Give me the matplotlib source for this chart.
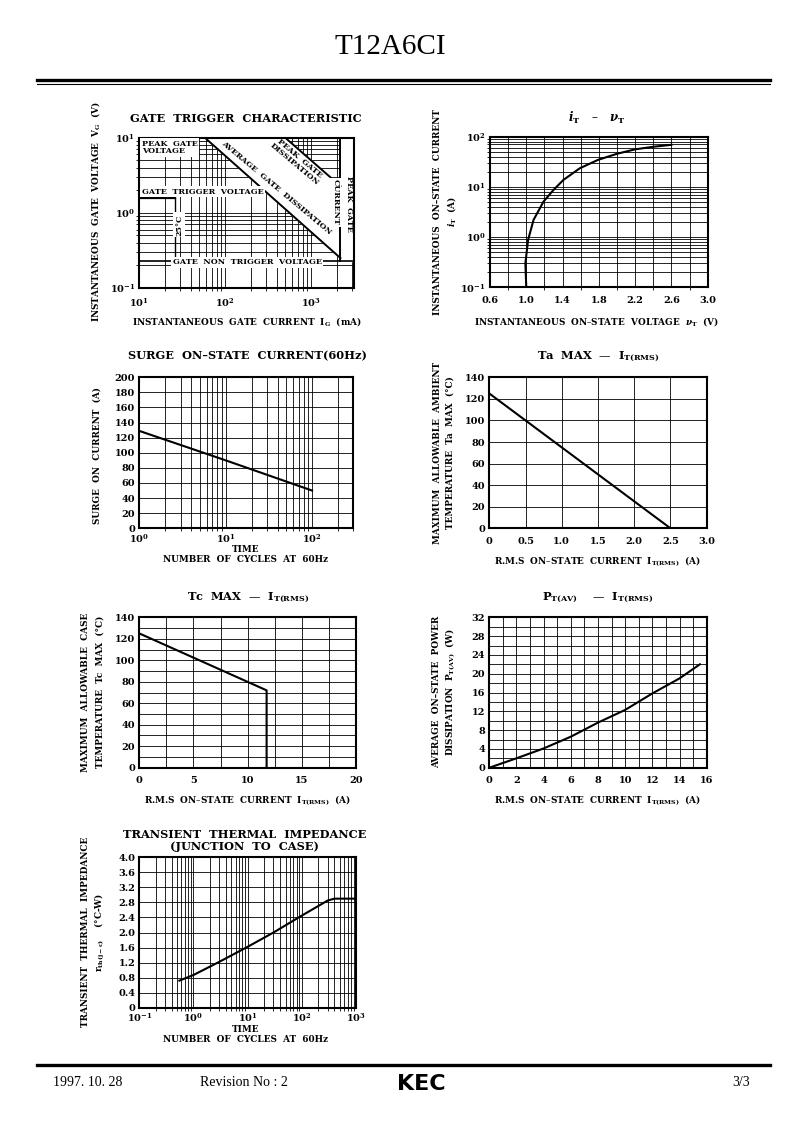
import numpy as np
import matplotlib
matplotlib.use('Agg')
from matplotlib import pyplot as plt

plt.rcParams['font.family'] = 'DejaVu Serif'
plt.rcParams['font.weight'] = 'bold'
plt.rcParams['mathtext.fontset'] = 'dejavuserif'
plt.rcParams['axes.linewidth'] = 1.5

W, H = 793, 1123

# ---- data ----
# gate trigger characteristic (mA, V)
trig_I = [10, 26]
trig_V = [1.6, 1.6]
nontrig_I = [10, 3162]
nontrig_V = [0.23, 0.23]
peak_cur_I = [2200, 2200]
peak_cur_V = [0.23, 10]
avg_diss_I = [58, 2200]
avg_diss_V = [10, 0.25]
peak_diss_I = [500, 2200]
peak_diss_V = [10, 2.27]

# iT - vT
vt = [1.0, 0.99, 1.02, 1.08, 1.19, 1.30, 1.41, 1.59, 1.79, 2.0, 2.2, 2.4, 2.6]
it = [0.1, 0.3, 0.88, 2.2, 5.1, 8.7, 13.8, 23.5, 34.5, 45.7, 56, 63, 69]

# surge on-state current
surge_cycles = [1, 10, 100]
surge_amps = [129, 90, 50]

# Ta max - IT(RMS)
ta_I = [0, 2.5]
ta_T = [125, 0]

# Tc max - IT(RMS)
tc_I = [0, 11.75, 11.75]
tc_T = [125, 72, 0]

# PT(AV) - IT(RMS)
pt_I = [0, 2, 4, 6, 8, 10, 12, 14, 15.5]
pt_P = [0, 2.0, 4.1, 6.6, 9.6, 12.3, 15.8, 19.0, 22.0]

# transient thermal impedance
tr_cycles = [0.55, 1, 3, 10, 30, 100, 300, 400, 1000]
tr_R = [0.72, 0.87, 1.22, 1.62, 2.0, 2.45, 2.85, 2.9, 2.9]

fig = plt.figure(figsize=(W / 100, H / 100), dpi=100)


def add_ax(l, t, r, b):
    ax = fig.add_axes([l / W, 1 - b / H, (r - l) / W, (b - t) / H])
    ax.tick_params(length=0, labelsize=7, pad=3)
    ax.set_axisbelow('line')
    return ax


def ftext(x, y, s, **kw):
    kw.setdefault('ha', 'center')
    kw.setdefault('va', 'center')
    kw.setdefault('fontsize', 6.4)
    fig.text(x / W, 1 - y / H, s, **kw)


def pow_labels(exps):
    return [r'$\mathbf{10^{%d}}$' % e for e in exps]


GRID = dict(color='black', lw=0.6)
TS = 8.2  # chart title size

# ---------- page header / footer ----------
ftext(390, 47, 'T12A6CI', fontsize=21, family='Liberation Serif', weight='normal')
fig.add_artist(plt.Line2D([37 / W, 770 / W], [1 - 80 / H] * 2, color='black', lw=2.4))
fig.add_artist(plt.Line2D([37 / W, 770 / W], [1 - 84 / H] * 2, color='black', lw=0.8))
fig.add_artist(plt.Line2D([37 / W, 770 / W], [1 - 1065 / H] * 2, color='black', lw=2.4))
ftext(88, 1083, '1997. 10. 28', fontsize=10, family='Liberation Serif', weight='normal')
ftext(244, 1083, 'Revision No : 2', fontsize=10, family='Liberation Serif', weight='normal')
ftext(421, 1084, 'KEC', fontsize=16, family='DejaVu Sans', weight='heavy')
ftext(741, 1083, '3/3', fontsize=10, family='Liberation Serif', weight='normal')

# ---------- 1. gate trigger characteristic ----------
ax = add_ax(139.3, 137.7, 354, 288)
ax.set_xscale('log')
ax.set_yscale('log')
ax.set_xlim(10, 3162)
ax.set_ylim(0.1, 10)
ax.set_xticks([10, 100, 1000], pow_labels([1, 2, 3]))
ax.set_yticks([0.1, 1, 10], pow_labels([-1, 0, 1]))
ax.tick_params(axis='x', pad=6)
ax.grid(which='both', **GRID)
band_x = [avg_diss_I[0], peak_diss_I[0], peak_diss_I[1], avg_diss_I[1]]
band_y = [avg_diss_V[0], peak_diss_V[0], peak_diss_V[1], avg_diss_V[1]]
ax.fill(band_x, band_y, color='white', zorder=2)
ax.fill([2200, 3162, 3162, 2200], [0.23, 0.23, 10, 10], color='white', zorder=2)
ax.plot(trig_I, trig_V, color='black', lw=1.6, zorder=3)
ax.plot([trig_I[1], trig_I[1]], [trig_V[1], nontrig_V[0]], color='black', lw=1.0, zorder=3)
ax.plot(nontrig_I, nontrig_V, color='black', lw=1.2, zorder=3)
ax.plot(peak_cur_I, peak_cur_V, color='black', lw=1.4, zorder=3)
ax.plot(avg_diss_I, avg_diss_V, color='black', lw=1.4, zorder=3)
ax.plot(peak_diss_I, peak_diss_V, color='black', lw=1.4, zorder=3)
wb = dict(fc='white', ec='none', pad=1.2)
ax.text(0.012, 0.985, 'PEAK  GATE\nVOLTAGE', transform=ax.transAxes, fontsize=5.8,
        ha='left', va='top', linespacing=0.9, bbox=wb, zorder=4)
ax.text(0.012, 0.615, 'GATE  TRIGGER  VOLTAGE', transform=ax.transAxes, fontsize=5.8,
        ha='left', va='bottom', bbox=wb, zorder=4)
ax.text(0.185, 0.42, '25°C', transform=ax.transAxes, fontsize=5.8, rotation=90,
        ha='center', va='center', bbox=wb, zorder=4)
ax.text(0.155, 0.17, 'GATE  NON  TRIGGER  VOLTAGE', transform=ax.transAxes, fontsize=5.8,
        ha='left', va='center', bbox=wb, zorder=4)
ax.text(0.64, 0.665, 'AVERAGE  GATE  DISSIPATION', transform=ax.transAxes, fontsize=5.8,
        rotation=-40, rotation_mode='anchor', ha='center', va='center', zorder=4)
ax.text(0.735, 0.84, 'PEAK  GATE\nDISSIPATION', transform=ax.transAxes, fontsize=5.8,
        rotation=-40, rotation_mode='anchor', ha='center', va='center',
        linespacing=0.9, zorder=4)
ax.text(0.915, 0.57, 'CURRENT', transform=ax.transAxes, fontsize=5.8, rotation=-90,
        ha='center', va='center', bbox=wb, zorder=4)
ax.text(0.977, 0.56, 'PEAK  GATE', transform=ax.transAxes, fontsize=5.8, rotation=-90,
        ha='center', va='center', zorder=4)
ftext(246, 118, 'GATE  TRIGGER  CHARACTERISTIC', fontsize=TS)
ftext(96, 212, r'INSTANTANEOUS  GATE  VOLTAGE  V$_{\mathbf{G}}$  (V)', rotation=90)
ftext(247, 322, r'INSTANTANEOUS  GATE  CURRENT  I$_{\mathbf{G}}$  (mA)')

# ---------- 2. iT - vT ----------
ax = add_ax(490, 136.7, 707.7, 287.3)
ax.set_yscale('log')
ax.set_xlim(0.6, 3.0)
ax.set_ylim(0.1, 100)
ax.set_xticks(np.arange(0.6, 3.01, 0.4), ['%.1f' % v for v in np.arange(0.6, 3.01, 0.4)])
ax.set_xticks(np.arange(0.8, 3.0, 0.4), minor=True)
ax.set_yticks([0.1, 1, 10, 100], pow_labels([-1, 0, 1, 2]))
ax.tick_params(axis='x', pad=6)
ax.grid(which='both', **GRID)
ax.plot(vt, it, color='black', lw=1.5, zorder=3)
ftext(597, 118, r'$\mathit{i}_{\mathbf{T}}$   –   $\nu_{\mathbf{T}}$', fontsize=8.5)
ftext(437, 212, 'INSTANTANEOUS  ON–STATE  CURRENT', rotation=90)
ftext(451, 212, r'$\mathit{i}_{\mathbf{T}}$  (A)', rotation=90)
ftext(596, 321, r'INSTANTANEOUS  ON–STATE  VOLTAGE  $\nu_{\mathbf{T}}$  (V)')

# ---------- 3. surge on-state current ----------
ax = add_ax(139.3, 377.3, 353.3, 528.3)
ax.set_xscale('log')
ax.set_xlim(1, 300)
ax.set_ylim(0, 200)
ax.set_xticks([1, 10, 100], pow_labels([0, 1, 2]))
ax.set_yticks(np.arange(0, 201, 20))
ax.grid(which='both', **GRID)
ax.plot(surge_cycles, surge_amps, color='black', lw=1.5, zorder=3)
ftext(248, 356, 'SURGE  ON–STATE  CURRENT(60Hz)', fontsize=TS)
ftext(97, 455, 'SURGE  ON  CURRENT  (A)', rotation=90)
ftext(246, 549, 'TIME')
ftext(246, 560, 'NUMBER  OF  CYCLES  AT  60Hz')

# ---------- 4. Ta max - IT(RMS) ----------
ax = add_ax(489.3, 377.3, 706.7, 528.3)
ax.set_xlim(0, 3.0)
ax.set_ylim(0, 140)
xt = np.arange(0, 3.01, 0.5)
ax.set_xticks(xt, ['0'] + ['%.1f' % v for v in xt[1:]])
ax.set_yticks(np.arange(0, 141, 20))
ax.tick_params(axis='x', pad=6)
ax.grid(which='both', **GRID)
ax.plot(ta_I, ta_T, color='black', lw=1.5, zorder=3)
ftext(598, 357, r'Ta  MAX  —  I$_{\mathbf{T(RMS)}}$', fontsize=TS)
ftext(437, 453, 'MAXIMUM  ALLOWABLE  AMBIENT', rotation=90)
ftext(450, 453, 'TEMPERATURE  Ta  MAX  (°C)', rotation=90)
ftext(598, 561, r'R.M.S  ON–STATE  CURRENT  I$_{\mathbf{T(RMS)}}$  (A)')

# ---------- 5. Tc max - IT(RMS) ----------
ax = add_ax(139.3, 617.3, 356, 767.7)
ax.set_xlim(0, 20)
ax.set_ylim(0, 140)
ax.set_xticks(np.arange(0, 21, 5))
ax.set_xticks(np.arange(2.5, 20, 5), minor=True)
ax.set_yticks(np.arange(0, 141, 20))
ax.set_yticks(np.arange(10, 140, 20), minor=True)
ax.tick_params(axis='x', pad=6)
ax.tick_params(which='minor', length=0)
ax.grid(which='both', **GRID)
ax.plot(tc_I, tc_T, color='black', lw=1.5, zorder=3)
ftext(248, 598, r'Tc  MAX  —  I$_{\mathbf{T(RMS)}}$', fontsize=TS)
ftext(86, 692, 'MAXIMUM  ALLOWABLE  CASE', rotation=90)
ftext(100, 692, 'TEMPERATURE  Tc  MAX  (°C)', rotation=90)
ftext(248, 800, r'R.M.S  ON–STATE  CURRENT  I$_{\mathbf{T(RMS)}}$  (A)')

# ---------- 6. PT(AV) - IT(RMS) ----------
ax = add_ax(489.3, 617.3, 706.7, 767.7)
ax.set_xlim(0, 16)
ax.set_ylim(0, 32)
ax.set_xticks(np.arange(0, 17, 2))
ax.set_xticks(np.arange(1, 16, 2), minor=True)
ax.set_yticks(np.arange(0, 33, 4))
ax.set_yticks(np.arange(2, 32, 4), minor=True)
ax.tick_params(axis='x', pad=6)
ax.tick_params(which='minor', length=0)
ax.grid(which='both', **GRID)
ax.plot(pt_I, pt_P, color='black', lw=1.5, zorder=3)
ftext(598, 598, r'P$_{\mathbf{T(AV)}}$    —  I$_{\mathbf{T(RMS)}}$', fontsize=TS)
ftext(437, 692, 'AVERAGE  ON–STATE  POWER', rotation=90)
ftext(450, 692, r'DISSIPATION  P$_{\mathbf{T(AV)}}$  (W)', rotation=90)
ftext(598, 800, r'R.M.S  ON–STATE  CURRENT  I$_{\mathbf{T(RMS)}}$  (A)')

# ---------- 7. transient thermal impedance ----------
ax = add_ax(139.3, 857.3, 356, 1007.7)
ax.set_xscale('log')
ax.set_xlim(0.1, 1000)
ax.set_ylim(0, 4.0)
ax.set_xticks([0.1, 1, 10, 100, 1000], pow_labels([-1, 0, 1, 2, 3]))
yt = np.arange(0, 4.01, 0.4)
ax.set_yticks(yt, ['0'] + ['%.1f' % v for v in yt[1:]])
ax.grid(which='both', **GRID)
ax.plot(tr_cycles, tr_R, color='black', lw=1.5, zorder=3)
ftext(245, 835, 'TRANSIENT  THERMAL  IMPEDANCE', fontsize=TS)
ftext(245, 847, '(JUNCTION  TO  CASE)', fontsize=TS)
ftext(86, 932, 'TRANSIENT  THERMAL  IMPEDANCE', rotation=90)
ftext(100, 932, r'r$_{\mathbf{th(j-c)}}$    (°C-W)', rotation=90)
ftext(246, 1029, 'TIME')
ftext(246, 1039, 'NUMBER  OF  CYCLES  AT  60Hz')

fig.savefig('out.png', dpi=100, facecolor='white')
